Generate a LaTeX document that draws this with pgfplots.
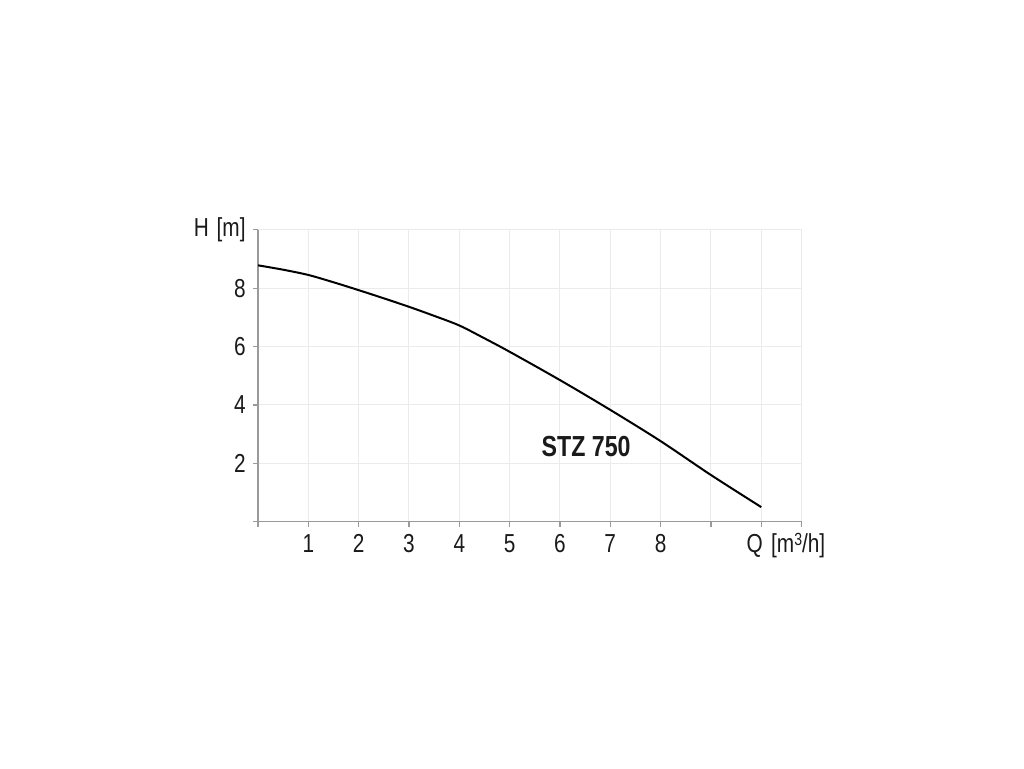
\documentclass[border=0pt]{standalone}
\usepackage{fontspec}
\setmainfont{Liberation Sans}[FakeStretch=0.8]
\usepackage{pgfplots}
\pgfplotsset{compat=1.18}
\usetikzlibrary{calc}
\definecolor{axgray}{HTML}{9A9A9A}
\definecolor{gridgray}{HTML}{EBEBEB}
\definecolor{txt}{HTML}{1A1A1A}
\begin{document}
\begin{tikzpicture}
\path[use as bounding box] (0,0) rectangle (512pt,384pt);
\begin{axis}[
  at={(129pt,123.15pt)}, anchor=south west,
  scale only axis, width=271.75pt, height=146pt,
  xmin=0, xmax=10.8, ymin=0, ymax=10,
  axis lines*=left,
  axis line style={axgray, line width=0.7pt, -},
  xtick={0,1,2,3,4,5,6,7,8,9,10,10.8},
  xticklabels={,1,2,3,4,5,6,7,8,,,},
  ytick={0,2,4,6,8,10},
  yticklabels={,2,4,6,8,H\hspace{0.3em}[m]},
  grid=major, grid style={gridgray, line width=0.5pt},
  tick align=outside, major tick length=2.5pt,
  tick style={axgray, line width=0.6pt},
  tick pos=left,
  /pgf/number format/assume math mode=true,
  ticklabel style={font=\fontsize{13}{15}\selectfont, text=txt},
  yticklabel style={anchor=east, inner sep=0pt, xshift=-3.5pt},
  xticklabel style={anchor=north, inner sep=0pt, yshift=-3.5pt, text height=9.4pt, text depth=0pt},
  clip=false,
]
\addplot[black, line width=1pt, smooth, tension=0.5] coordinates {
(0,8.78) (0.5,8.63) (1,8.45) (1.5,8.2) (2,7.93) (2.5,7.65) (3,7.36) (3.5,7.05) (4,6.72) (4.5,6.28) (5,5.82) (6,4.85) (7,3.83) (8,2.76) (9,1.6) (10,0.5)
};
\node[anchor=center, font=\fontsize{14.5}{16}\selectfont\bfseries, text=txt] at (axis cs:6.52,2.56) {STZ 750};
\node[anchor=north west, inner sep=0pt, text height=9.4pt, text depth=0pt, font=\fontsize{13}{15}\selectfont, text=txt] at ($(axis cs:10,0)+(-7.5pt,-6pt)$) {Q\hspace{0.32em}[m\raisebox{0.27em}{\fontsize{8.8}{9}\selectfont 3}/h]};
\end{axis}
\end{tikzpicture}
\end{document}
